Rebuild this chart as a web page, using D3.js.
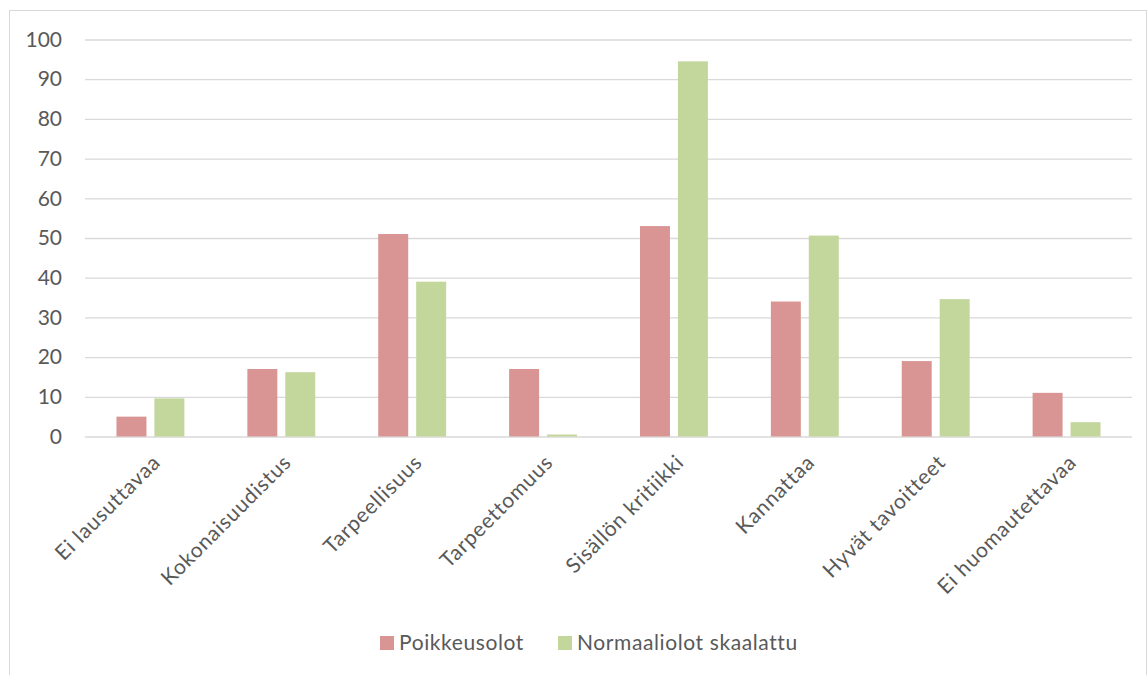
<!DOCTYPE html>
<html>
<head>
<meta charset="utf-8">
<script src="https://cdn.jsdelivr.net/npm/d3@7"></script>
<style>
  body { margin: 0; background: #fff; }
  text { font-family: Lato, "Open Sans", sans-serif; fill: #595959; }
</style>
</head>
<body>
<div id="chart"></div>
<script>
// categories and both series
const categories = ["Ei lausuttavaa", "Kokonaisuudistus", "Tarpeellisuus", "Tarpeettomuus",
  "Sisällön kritiikki", "Kannattaa", "Hyvät tavoitteet", "Ei huomautettavaa"];
const poikkeusolot = [5, 17, 51, 17, 53, 34, 19, 11];
const normaaliolot = [9.6, 16.2, 39, 0.5, 94.5, 50.6, 34.6, 3.6];
const seriesNames = ["Poikkeusolot", "Normaaliolot skaalattu"];
const yTicks = [0, 10, 20, 30, 40, 50, 60, 70, 80, 90, 100];

const width = 1148, height = 675;
const colors = ["#d99594", "#c3d69b"];
const margin = {top: 39.5, left: 85, right: 16, bottom: 238.5};
const fontSize = "21px";

const svg = d3.select("#chart")
  .append("svg")
  .attr("width", width)
  .attr("height", height);

// chart frame
svg.append("rect")
  .attr("x", 9.5).attr("y", 10.5)
  .attr("width", 1137).attr("height", 680)
  .attr("fill", "none")
  .attr("stroke", "#d9d9d9");

const x = d3.scaleBand()
  .domain(categories)
  .range([margin.left, width - margin.right]);

const x1 = d3.scaleBand()
  .domain(seriesNames)
  .range([0, x.bandwidth()])
  .paddingInner(0.21)
  .paddingOuter(0.83);

const y = d3.scaleLinear()
  .domain([0, 100])
  .range([height - margin.bottom, margin.top]);

// gridlines + tick labels
const yAxis = svg.append("g")
  .attr("transform", `translate(${margin.left},0)`)
  .call(d3.axisLeft(y).tickValues(yTicks).tickSize(-(width - margin.left - margin.right)).tickPadding(23));
yAxis.select(".domain").remove();
yAxis.selectAll(".tick line").attr("stroke", "#d9d9d9").attr("stroke-width", 1.3);
yAxis.selectAll(".tick text")
  .style("font-size", fontSize)
  .style("font-family", "Lato, sans-serif")
  .attr("fill", "#595959");

const rows = categories.map((c, i) => ({cat: c, vals: [poikkeusolot[i], normaaliolot[i]]}));

svg.append("g")
  .selectAll("g")
  .data(rows)
  .join("g")
  .attr("transform", d => `translate(${x(d.cat)},0)`)
  .selectAll("rect")
  .data(d => d.vals.map((v, j) => ({name: seriesNames[j], v, j})))
  .join("rect")
  .attr("x", d => x1(d.name))
  .attr("width", x1.bandwidth())
  .attr("y", d => y(d.v))
  .attr("height", d => y(0) - y(d.v))
  .attr("fill", d => colors[d.j]);

// category labels, rotated like excel does it
svg.append("g")
  .selectAll("text")
  .data(categories)
  .join("text")
  .attr("transform", d => `translate(${x(d) + x.bandwidth() / 2 + 6},${y(0) + 22}) rotate(-45)`)
  .attr("text-anchor", "end")
  .attr("dy", "0.35em")
  .style("font-size", fontSize)
  .style("letter-spacing", "0.8px")
  .text(d => d);

// legend
const legend = svg.append("g").attr("transform", "translate(380,643)");
const legendX = [0, 178];
seriesNames.forEach((n, i) => {
  const g = legend.append("g").attr("transform", `translate(${legendX[i]},0)`);
  g.append("rect").attr("x", 0).attr("y", -7).attr("width", 14).attr("height", 14).attr("fill", colors[i]);
  g.append("text").attr("x", 19).attr("dy", "0.35em")
    .style("font-size", fontSize)
    .style("letter-spacing", "0.6px")
    .text(n);
});
</script>
</body>
</html>
